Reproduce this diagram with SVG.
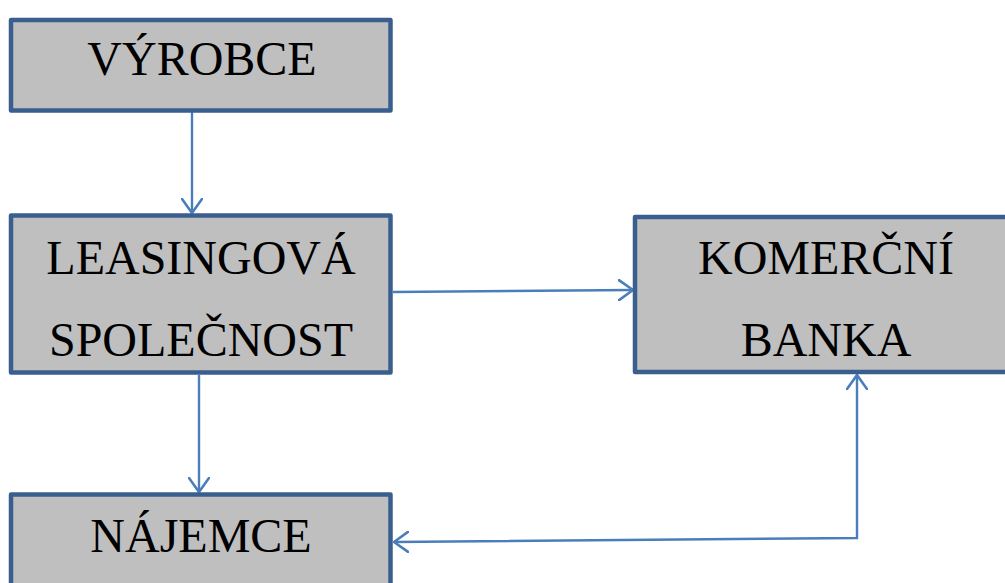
<svg xmlns="http://www.w3.org/2000/svg" width="1005" height="583" viewBox="0 0 1005 583">
<style>
.box{fill:#BFBFBF;stroke:#3A5F8F;stroke-width:4.5;stroke-linejoin:round}
.lbl{font-family:"Liberation Serif","Times New Roman",serif;font-size:48px;fill:#000;text-anchor:middle}
.con{fill:none;stroke:#4A7EBB;stroke-width:2.4}
</style>
<defs>
<marker id="ah" viewBox="0 0 16 22" refX="15" refY="11" markerWidth="16" markerHeight="22" markerUnits="userSpaceOnUse" orient="auto-start-reverse">
<path d="M1,1 L15,11 L1,21" fill="none" stroke="#4A7EBB" stroke-width="2.6" stroke-linecap="round" stroke-linejoin="round"/>
</marker>
</defs>
<rect width="1005" height="583" fill="#fff"/>
<g id="connectors">
<line class="con" x1="192" y1="112" x2="192" y2="213" marker-end="url(#ah)"/>
<line class="con" x1="393" y1="292" x2="633" y2="290" marker-end="url(#ah)"/>
<line class="con" x1="199" y1="375" x2="199" y2="492" marker-end="url(#ah)"/>
<polyline class="con" points="394,542 857,538 857,375" marker-start="url(#ah)" marker-end="url(#ah)"/>
</g>
<g id="vyrobce">
<rect class="box" x="11" y="20" width="379.5" height="90.5"/>
<text class="lbl" x="202" y="75">VÝROBCE</text>
</g>
<g id="leasingova">
<rect class="box" x="11" y="215.5" width="379.5" height="157"/>
<text class="lbl" x="201" y="274">LEASINGOVÁ</text>
<text class="lbl" x="201" y="356">SPOLEČNOST</text>
</g>
<g id="banka">
<rect class="box" x="635" y="217" width="385" height="155"/>
<text class="lbl" x="826" y="274">KOMERČNÍ</text>
<text class="lbl" x="826" y="356">BANKA</text>
</g>
<g id="najemce">
<rect class="box" x="11" y="494.5" width="379.5" height="100"/>
<text class="lbl" x="201" y="552">NÁJEMCE</text>
</g>
</svg>
